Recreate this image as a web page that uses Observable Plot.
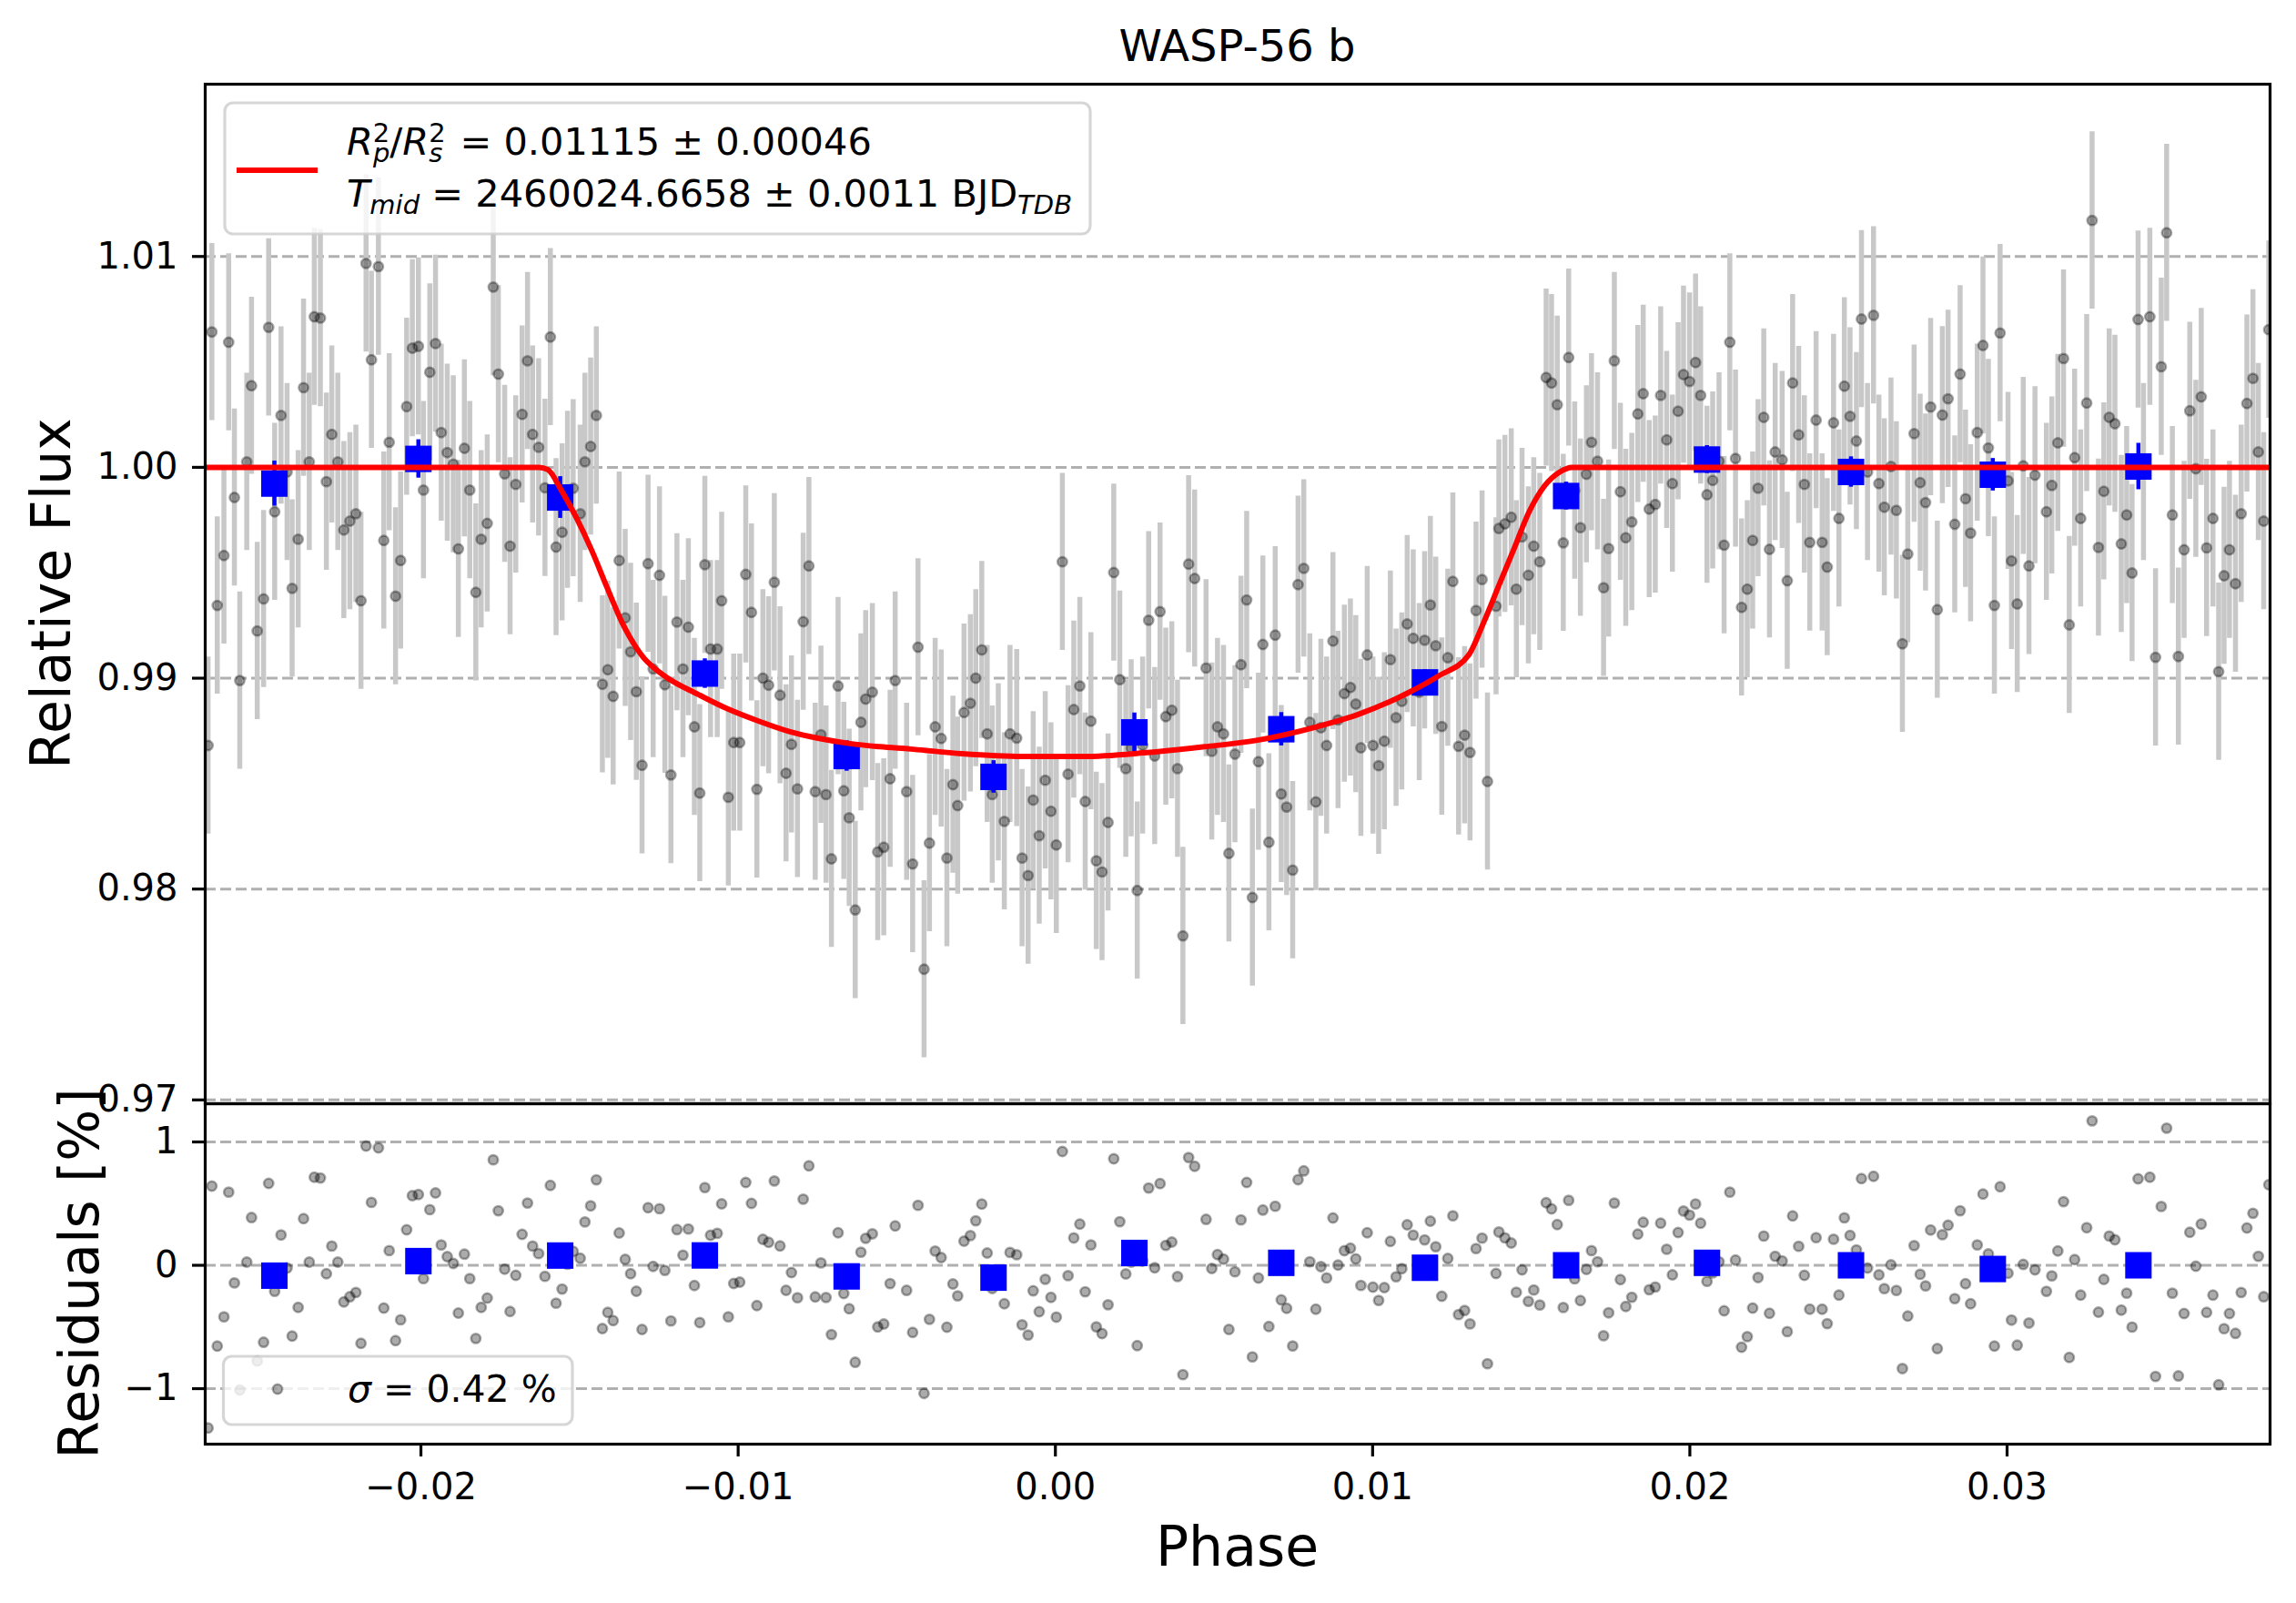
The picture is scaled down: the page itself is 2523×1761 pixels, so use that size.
<!DOCTYPE html>
<html><head><meta charset="utf-8">
<script src="https://cdn.jsdelivr.net/npm/d3@7"></script>
<script src="https://cdn.jsdelivr.net/npm/@observablehq/plot@0.6"></script>
<style>
html,body{margin:0;padding:0;background:#fff;}
#wrap{position:relative;width:2523px;height:1761px;overflow:hidden;background:#fff;}
#wrap svg{position:absolute;left:0;}
</style></head><body><div id="wrap"></div>
<script>
// ---------- data ----------
const titleText = "WASP-56 b";
const phase = [
-0.02671,-0.02659,-0.02642,-0.02621,-0.02606,-0.02588,-0.02571,-0.02549,-0.02534,-0.02516,
-0.02496,-0.02480,-0.02461,-0.02441,-0.02422,-0.02406,-0.02387,-0.02370,-0.02352,-0.02336,
-0.02317,-0.02298,-0.02281,-0.02262,-0.02243,-0.02224,-0.02205,-0.02189,-0.02173,-0.02156,
-0.02134,-0.02117,-0.02100,-0.02080,-0.02064,-0.02045,-0.02027,-0.02008,-0.01992,-0.01972,
-0.01954,-0.01936,-0.01917,-0.01898,-0.01882,-0.01863,-0.01846,-0.01827,-0.01810,-0.01791,
-0.01772,-0.01756,-0.01736,-0.01719,-0.01701,-0.01681,-0.01664,-0.01648,-0.01629,-0.01609,
-0.01592,-0.01574,-0.01555,
-0.01538,-0.01520,-0.01498,-0.01483,-0.01465,-0.01447,-0.01428,-0.01411,-0.01394,-0.01375,
-0.01356,-0.01339,-0.01321,-0.01303,-0.01284,-0.01268,-0.01248,-0.01231,-0.01212,-0.01193,
-0.01174,-0.01157,-0.01138,-0.01121,-0.01105,-0.01087,-0.01066,-0.01052,-0.01031,-0.01014,
-0.00995,-0.00976,-0.00958,-0.00941,-0.00922,-0.00904,-0.00886,-0.00868,-0.00849,-0.00832,
-0.00813,-0.00795,-0.00777,-0.00757,-0.00739,-0.00723,-0.00706,-0.00685,-0.00667,-0.00650,
-0.00631,-0.00613,-0.00598,-0.00577,-0.00560,-0.00541,-0.00521,-0.00505,-0.00469,
-0.00450,-0.00433,-0.00414,-0.00397,-0.00379,-0.00360,-0.00342,-0.00323,-0.00308,-0.00288,
-0.00268,-0.00251,-0.00232,-0.00215,-0.00199,-0.00180,-0.00161,-0.00143,-0.00122,-0.00105,
-0.00086,-0.00070,-0.00051,-0.00032,-0.00014,0.00003,0.00022,0.00040,0.00058,0.00077,
0.00094,0.00112,0.00129,0.00147,0.00166,0.00184,0.00203,0.00222,0.00239,0.00258,
0.00275,0.00294,0.00313,0.00330,0.00348,0.00367,0.00385,0.00402,0.00420,0.00439,
0.00475,0.00493,0.00511,0.00530,0.00547,0.00566,0.00585,0.00603,0.00621,0.00640,0.00654,
0.00673,0.00693,0.00712,0.00729,0.00748,0.00765,0.00783,0.00802,0.00821,0.00837,
0.00855,0.00875,0.00891,0.00911,0.00930,0.00947,0.00963,0.00983,0.01001,0.01019,
0.01037,0.01056,0.01074,0.01092,0.01109,0.01128,0.01147,0.01164,0.01182,0.01199,
0.01218,0.01237,0.01253,0.01271,0.01290,0.01307,0.01326,0.01345,0.01362,0.01389,
0.01398,0.01417,0.01437,0.01453,0.01471,0.01491,0.01508,0.01527,0.01547,0.01564,
0.01582,0.01601,0.01618,0.01637,0.01655,0.01674,0.01690,0.01709,0.01728,0.01744,0.01762,
0.01781,0.01798,0.01817,0.01836,0.01853,0.01872,0.01891,0.01908,0.01927,0.01945,
0.01963,0.01980,0.01999,0.02018,0.02034,0.02054,0.02072,0.02092,0.02108,0.02126,
0.02144,0.02163,0.02181,0.02198,0.02215,0.02233,0.02251,0.02269,0.02291,0.02307,
0.02324,0.02343,0.02361,0.02378,0.02398,0.02417,0.02433,0.02453,0.02470,0.02487,
0.02505,0.02525,0.02541,0.02560,0.02579,0.02596,0.02613,0.02634,0.02651,0.02670,
0.02687,0.02707,0.02726,0.02743,0.02759,0.02780,0.02796,0.02814,0.02835,0.02852,
0.02869,0.02885,
0.02906,0.02924,0.02941,0.02960,0.02978,0.03003,0.03014,0.03032,0.03051,0.03069,
0.03088,0.03124,0.03141,0.03160,0.03178,0.03196,0.03213,0.03232,0.03251,0.03268,
0.03288,0.03305,0.03322,0.03340,0.03360,0.03377,0.03394,0.03413,0.03430,0.03450,
0.03468,0.03486,0.03503,0.03521,0.03540,0.03558,0.03576,0.03595,0.03612,0.03629,
0.03649,0.03667,0.03684,0.03701,0.03720,0.03738,0.03756,0.03775,0.03792,0.03809,0.03825
];
const flux = [
0.98681,1.00642,0.99345,0.99582,1.00593,0.99857,0.98989,1.00026,1.00387,0.99224,
0.99376,1.00664,0.99789,1.00246,0.99978,0.99426,0.99659,1.00378,1.00026,1.00714,
1.00708,0.99932,1.00156,1.00026,0.99703,0.99745,0.99780,0.99367,1.00967,1.00510,
1.00952,0.99653,1.00119,0.99389,0.99558,1.00288,1.00565,1.00574,0.99892,1.00451,
1.00587,1.00165,1.00070,1.00015,0.99613,1.00090,0.99892,0.99407,0.99659,0.99734,
1.00855,1.00442,0.99969,0.99626,0.99919,1.00251,1.00505,1.00156,1.00095,0.99903,
1.00618,0.99622,0.99692,
0.99846,0.99901,0.99780,1.00026,1.00099,1.00246,0.98971,0.99040,0.98914,0.99558,
0.99286,0.99125,0.98936,0.98587,0.99543,0.99044,0.99488,0.98969,0.98541,0.99266,
0.99044,0.99242,0.98769,0.98455,0.99538,0.99138,0.99138,0.99367,0.98435,0.98695,
0.98695,0.99492,0.99312,0.98473,0.99000,0.98967,0.99455,0.98919,0.98549,0.98686,
0.98475,0.99268,0.99532,0.98462,0.98732,0.98448,0.98143,0.98963,0.98466,0.98338,
0.97901,0.98791,0.98901,0.98934,0.98176,0.98198,0.98523,0.98989,0.98462,
0.98119,0.99147,0.97620,0.98218,0.98769,0.98714,0.98147,0.98495,0.98396,0.98837,
0.98881,0.99000,0.99134,0.98736,0.98448,0.98554,0.98321,0.98736,0.98716,0.98147,
0.98064,0.98422,0.98253,0.98516,0.98369,0.98209,0.99552,0.98545,0.98851,0.98963,
0.98415,0.98796,0.98134,0.98081,0.98316,0.99501,0.98993,0.98571,0.98668,0.97993,
0.98681,0.99275,0.98631,0.99316,0.98818,0.98848,0.98571,0.97778,0.99541,0.99473,
0.99048,0.98653,0.98769,0.98736,0.98169,0.98640,0.99064,0.99371,0.97960,0.98604,0.99160,
0.98222,0.99204,0.98451,0.98389,0.98090,0.99444,0.99521,0.98791,0.98413,0.98765,
0.98681,0.99176,0.98802,0.98927,0.98956,0.98877,0.98670,0.99110,0.98681,0.98585,
0.98701,0.99088,0.98813,0.98890,0.99257,0.99189,0.98934,0.99180,0.99347,0.99154,
0.98771,0.99097,0.99459,0.98677,0.98730,0.98648,0.99321,0.99468,0.98510,0.99341,
0.99710,0.99732,0.99763,0.99422,0.99670,0.99488,0.99626,0.99552,1.00426,1.00400,
1.00297,0.99642,1.00521,0.99890,0.99714,0.99967,1.00119,1.00029,0.99429,0.99615,1.00505,
0.99884,0.99666,0.99741,1.00253,1.00349,0.99802,0.99824,1.00341,1.00130,0.99923,
1.00266,1.00440,1.00407,1.00497,1.00341,0.99870,0.99938,1.00029,0.99631,1.00593,
1.00042,0.99336,0.99422,0.99653,0.99901,1.00237,0.99611,1.00073,1.00035,0.99462,
1.00400,1.00154,0.99919,0.99644,1.00224,0.99644,0.99527,1.00211,0.99758,1.00385,
1.00242,1.00125,1.00703,0.99978,1.00721,0.99923,0.99811,1.00004,0.99796,0.99163,
0.99589,1.00160,0.99927,0.99833,1.00286,0.99325,1.00248,1.00325,0.99730,1.00442,
0.99851,0.99688,
1.00165,1.00578,1.00092,0.99345,1.00637,0.99936,0.99556,0.99352,1.00007,0.99532,
0.99963,0.99789,0.99914,1.00116,1.00516,0.99253,1.00046,0.99758,1.00305,1.01171,
0.99620,0.99886,1.00237,1.00207,0.99637,0.99774,0.99499,1.00701,0.99978,1.00714,
0.99099,1.00477,1.01112,0.99774,0.99103,0.99609,1.00268,0.99993,1.00334,0.99618,
0.99758,0.99031,0.99486,0.99609,0.99448,0.99780,1.00303,1.00422,1.00073,0.99745,1.00653
];
const fluxErr = 0.0042;

const modelPhase = [-0.0268,-0.01628,-0.01600,-0.01557,-0.01509,-0.01461,-0.01413,-0.01366,-0.01318,-0.01299,
  -0.01270,-0.01222,-0.01126,-0.01031,-0.00935,-0.00839,-0.00744,-0.00648,-0.00553,-0.00457,
  -0.00294,-0.00103,0.00088,0.00279,0.00471,0.00633,0.00825,0.00958,0.01111,0.01207,
  0.01303,0.01350,0.01398,0.01446,0.01494,0.01542,0.01590,0.01628,0.03829];
const modelFlux = [1.0,1.0,0.99989,0.99890,0.99758,0.99604,0.99429,0.99264,0.99138,0.99099,
  0.99055,0.99000,0.98923,0.98853,0.98796,0.98747,0.98714,0.98690,0.98675,0.98664,
  0.98642,0.98629,0.98629,0.98646,0.98675,0.98705,0.98770,0.98830,0.98930,0.99010,
  0.99110,0.99264,0.99440,0.99615,0.99791,0.99912,0.99978,1.0,1.0];

const binPhase = [-0.02462,-0.02008,-0.01561,-0.01105,-0.00658,-0.00195,0.00249,0.00712,0.01165,0.01610,0.02054,0.02508,0.02955,0.03414];
const binFlux  = [0.99923,1.00040,0.99857,0.99022,0.98631,0.98532,0.98743,0.98758,0.98980,0.99864,1.00037,0.99978,0.99965,1.00004];
const binErr   = [0.00107,0.00091,0.00099,0.00070,0.00072,0.00077,0.00092,0.00079,0.00060,0.00066,0.00066,0.00072,0.00077,0.00110];
const binResid = [-0.084,0.034,0.079,0.08,-0.09,-0.10,0.10,0.02,-0.02,0.00,0.02,0.00,-0.03,0.00];

const xTicks = [-0.02,-0.01,0.00,0.01,0.02,0.03];
const yTicksTop = [0.97,0.98,0.99,1.00,1.01];
const yTicksRes = [-1,0,1];
const xDomain = [-0.02680, 0.03829];
const yDomainTop = [0.96982, 1.01817];
const yDomainRes = [-1.450, 1.310];

// ---------- derived tables ----------
function modelAt(p){
  for (let i=1;i<modelPhase.length;i++){
    if (p <= modelPhase[i]) {
      const t = (p - modelPhase[i-1])/(modelPhase[i]-modelPhase[i-1]);
      return modelFlux[i-1] + t*(modelFlux[i]-modelFlux[i-1]);
    }
  }
  return modelFlux[modelFlux.length-1];
}
const pts = phase.map((p,i)=>({phase:p, flux:flux[i], resid:(flux[i]-modelAt(p))*100}));
const model = modelPhase.map((p,i)=>({phase:p, flux:modelFlux[i]}));
const bins = binPhase.map((p,i)=>({phase:p, flux:binFlux[i], err:binErr[i], resid:binResid[i]}));

const minus = s => s.replace("-", "\u2212");
const fmt2 = d => minus(d.toFixed(2));
const fmt0 = d => minus(String(d));

const W = 2523, ML = 225, MR = 29;
const font = {fontFamily:"DejaVu Sans", fontSize:"40px", color:"black", background:"transparent", overflow:"visible"};
const grid = {stroke:"#b0b0b0", strokeWidth:3, strokeDasharray:"12,5"};
const greyDot = {r:5.2, fill:"black", fillOpacity:0.33, stroke:"black", strokeOpacity:0.33, strokeWidth:2.5};

const topPlot = Plot.plot({
  width: W, height: 1240, marginLeft: ML, marginRight: MR, marginTop: 92, marginBottom: 28,
  style: font,
  x: {domain: xDomain, axis: null},
  y: {domain: yDomainTop},
  marks: [
    Plot.ruleY(yTicksTop, {y: d=>d, ...grid}),
    Plot.ruleX(pts, {x:"phase", y1: d=>d.flux-fluxErr, y2: d=>d.flux+fluxErr, stroke:"#c8c8c8", strokeWidth:5.5, clip:true}),
    Plot.dot(pts, {x:"phase", y:"flux", ...greyDot, clip:true}),
    Plot.ruleX(bins, {x:"phase", y1: d=>d.flux-d.err, y2: d=>d.flux+d.err, stroke:"blue", strokeWidth:4.5}),
    Plot.dot(bins, {x:"phase", y:"flux", symbol:"square", r:16.4, fill:"blue", stroke:"none"}),
    Plot.line(model, {x:"phase", y:"flux", stroke:"red", strokeWidth:6, curve:"monotone-x", clip:true}),
    Plot.frame({stroke:"black", strokeWidth:3.2}),
    Plot.axisY({ticks: yTicksTop, tickFormat: fmt2, tickSize: 14, tickPadding: 16, strokeWidth: 3.2, label: null})
  ]
});
topPlot.style.top = "0px";

const resPlot = Plot.plot({
  width: W, height: 561, marginLeft: ML, marginRight: MR, marginTop: 12, marginBottom: 175,
  style: font,
  x: {domain: xDomain},
  y: {domain: yDomainRes},
  marks: [
    Plot.ruleY(yTicksRes, {y: d=>d, ...grid}),
    Plot.dot(pts, {x:"phase", y:"resid", ...greyDot, clip:true}),
    Plot.dot(bins, {x:"phase", y:"resid", symbol:"square", r:16.4, fill:"blue", stroke:"none"}),
    Plot.frame({stroke:"black", strokeWidth:3.2}),
    Plot.axisY({ticks: yTicksRes, tickFormat: fmt0, tickSize: 14, tickPadding: 16, strokeWidth: 3.2, label: null}),
    Plot.axisX({ticks: xTicks, tickFormat: fmt2, tickSize: 14, tickPadding: 18, strokeWidth: 3.2, label: null})
  ]
});
resPlot.style.top = "1200px";

const wrap = document.getElementById("wrap");
wrap.appendChild(topPlot);
wrap.appendChild(resPlot);

// ---------- title, axis labels and legends ----------
const NS = "http://www.w3.org/2000/svg";
const ov = document.createElementNS(NS, "svg");
ov.setAttribute("width", W); ov.setAttribute("height", 1761);
ov.setAttribute("font-family", "DejaVu Sans");
ov.style.top = "0px";
ov.innerHTML = `
<text x="1359.5" y="67" text-anchor="middle" font-size="48">${titleText}</text>
<text x="1359.5" y="1720" text-anchor="middle" font-size="60">Phase</text>
<text transform="translate(77,652) rotate(-90)" text-anchor="middle" font-size="60">Relative Flux</text>
<text transform="translate(108,1399) rotate(-90)" text-anchor="middle" font-size="60">Residuals [%]</text>
<rect x="247" y="113" width="951" height="144" rx="9" fill="white" fill-opacity="0.8" stroke="#cccccc" stroke-opacity="0.8" stroke-width="3.2"/>
<line x1="260" x2="349" y1="187" y2="187" stroke="red" stroke-width="6"/>
<text x="381" y="170" font-size="41.5"><tspan font-style="italic">R</tspan><tspan font-size="29" dy="-14">2</tspan><tspan font-size="29" font-style="italic" dx="-18.4" dy="22">p</tspan><tspan dy="-8">/</tspan><tspan font-style="italic">R</tspan><tspan font-size="29" dy="-14">2</tspan><tspan font-size="29" font-style="italic" dx="-18.4" dy="22">s</tspan><tspan dx="6" dy="-8"> = 0.01115 ± 0.00046</tspan></text>
<text x="381" y="227" font-size="41.5"><tspan font-style="italic">T</tspan><tspan font-size="29" font-style="italic" dy="8">mid</tspan><tspan dy="-8"> = 2460024.6658 ± 0.0011 BJD</tspan><tspan font-size="29" font-style="italic" dy="8">TDB</tspan></text>
<rect x="245.5" y="1490" width="383.5" height="75" rx="9" fill="white" fill-opacity="0.8" stroke="#cccccc" stroke-opacity="0.8" stroke-width="3.2"/>
<circle cx="305" cy="1526" r="5.2" fill="black" fill-opacity="0.33" stroke="black" stroke-opacity="0.33" stroke-width="2.5"/>
<text x="382" y="1540" font-size="41"><tspan font-style="italic">σ</tspan> = 0.42 %</text>
`;
wrap.appendChild(ov);
</script>
</body></html>
